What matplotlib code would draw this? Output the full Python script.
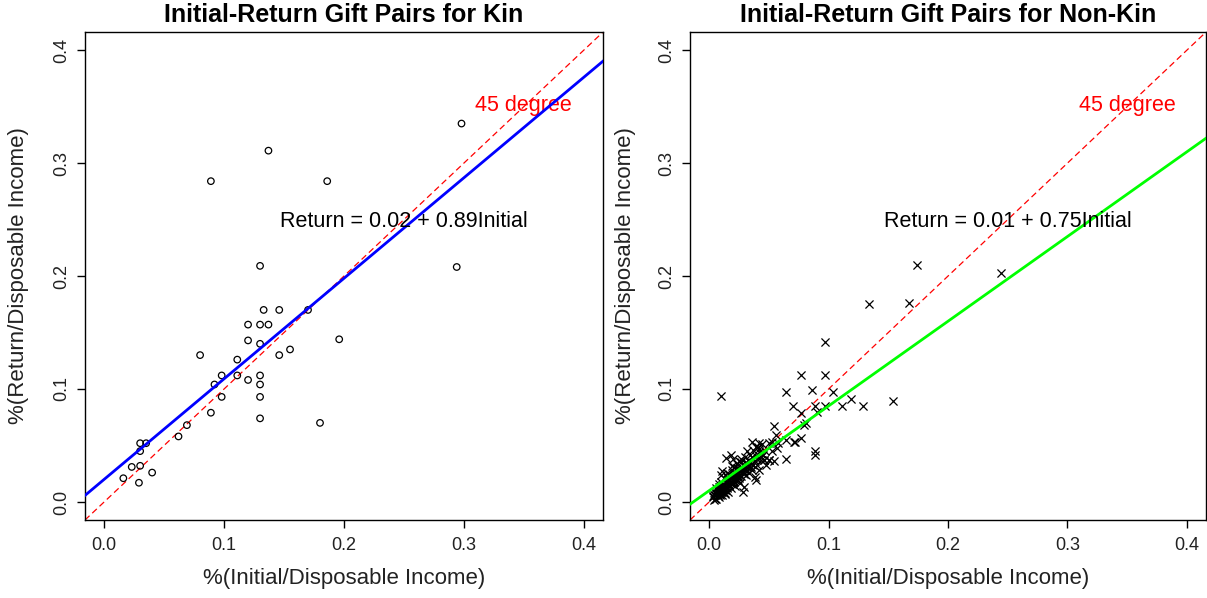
import matplotlib
matplotlib.use("Agg")
import matplotlib.pyplot as plt

plt.rcParams['font.family'] = ['Liberation Sans', 'DejaVu Sans']

# kin gift pairs (share of disposable income)
kin_initial = [0.298, 0.137, 0.089, 0.186, 0.130, 0.294, 0.133, 0.146, 0.170,
               0.120, 0.130, 0.137, 0.120, 0.130, 0.196, 0.080, 0.146, 0.155,
               0.111, 0.098, 0.111, 0.092, 0.120, 0.130, 0.130, 0.098, 0.130,
               0.089, 0.130, 0.180, 0.069, 0.062, 0.030, 0.035, 0.030, 0.023,
               0.030, 0.040, 0.016, 0.029]
kin_return = [0.335, 0.311, 0.284, 0.284, 0.209, 0.208, 0.170, 0.170, 0.170,
              0.157, 0.157, 0.157, 0.143, 0.140, 0.144, 0.130, 0.130, 0.135,
              0.126, 0.112, 0.112, 0.104, 0.108, 0.112, 0.104, 0.093, 0.093,
              0.079, 0.074, 0.070, 0.068, 0.058, 0.052, 0.052, 0.045, 0.031,
              0.032, 0.026, 0.021, 0.017]

# non-kin gift pairs
nonkin_initial = [0.174, 0.244, 0.134, 0.167, 0.097, 0.077, 0.097, 0.010, 0.064,
                  0.086, 0.104, 0.070, 0.089, 0.097, 0.111, 0.119, 0.129, 0.154,
                  0.090, 0.077, 0.079, 0.077, 0.072, 0.064, 0.064, 0.089, 0.089,
                  0.054, 0.057, 0.054, 0.028, 0.053, 0.056, 0.058, 0.071, 0.050,
                  0.046, 0.042, 0.036, 0.039, 0.081,
                  0.003, 0.004, 0.005, 0.005, 0.006, 0.006, 0.007, 0.007, 0.008,
                  0.008, 0.008, 0.009, 0.009, 0.010, 0.010, 0.010, 0.011, 0.011,
                  0.012, 0.012, 0.013, 0.013, 0.014, 0.014, 0.014, 0.015, 0.015,
                  0.016, 0.016, 0.017, 0.017, 0.018, 0.018, 0.018, 0.019, 0.019,
                  0.020, 0.020, 0.020, 0.021, 0.021, 0.022, 0.022, 0.023, 0.023,
                  0.024, 0.024, 0.025, 0.025, 0.026, 0.026, 0.027, 0.027, 0.028,
                  0.029, 0.029, 0.030, 0.030, 0.031, 0.031, 0.032, 0.033, 0.033,
                  0.034, 0.034, 0.035, 0.036, 0.036, 0.037, 0.038, 0.038, 0.039,
                  0.039, 0.040, 0.041, 0.042, 0.042, 0.043, 0.044, 0.045, 0.046,
                  0.047, 0.048, 0.050, 0.050, 0.053, 0.032, 0.042, 0.006, 0.009,
                  0.012, 0.015, 0.019, 0.022, 0.025, 0.004, 0.007, 0.011, 0.017,
                  0.021, 0.026, 0.030, 0.034,
                  0.003, 0.005, 0.006, 0.007, 0.008, 0.009, 0.010, 0.011, 0.012,
                  0.013, 0.014, 0.015, 0.016, 0.017, 0.018, 0.019, 0.020, 0.021,
                  0.022, 0.023, 0.024, 0.025, 0.026, 0.027, 0.028, 0.029, 0.031,
                  0.032, 0.035, 0.037, 0.040, 0.043, 0.015, 0.019, 0.023, 0.027,
                  0.011, 0.013, 0.008, 0.016]
nonkin_return = [0.210, 0.203, 0.175, 0.176, 0.142, 0.112, 0.112, 0.094, 0.097,
                 0.099, 0.097, 0.085, 0.085, 0.085, 0.085, 0.091, 0.085, 0.089,
                 0.080, 0.079, 0.068, 0.057, 0.053, 0.055, 0.038, 0.045, 0.042,
                 0.067, 0.048, 0.036, 0.009, 0.053, 0.059, 0.052, 0.053, 0.037,
                 0.037, 0.052, 0.053, 0.049, 0.070,
                 0.004, 0.002, 0.006, 0.009, 0.003, 0.012, 0.005, 0.008, 0.004,
                 0.011, 0.016, 0.007, 0.013, 0.009, 0.018, 0.024, 0.006, 0.012,
                 0.015, 0.010, 0.020, 0.008, 0.017, 0.039, 0.011, 0.013, 0.022,
                 0.019, 0.009, 0.025, 0.015, 0.042, 0.021, 0.012, 0.018, 0.028,
                 0.023, 0.016, 0.038, 0.020, 0.031, 0.026, 0.014, 0.022, 0.034,
                 0.025, 0.019, 0.029, 0.036, 0.024, 0.017, 0.030, 0.038, 0.027,
                 0.033, 0.013, 0.028, 0.040, 0.035, 0.024, 0.031, 0.037, 0.026,
                 0.042, 0.030, 0.034, 0.040, 0.028, 0.046, 0.036, 0.022, 0.019,
                 0.041, 0.033, 0.049, 0.028, 0.044, 0.037, 0.051, 0.042, 0.037,
                 0.045, 0.033, 0.037, 0.052, 0.045, 0.045, 0.047, 0.008, 0.010,
                 0.014, 0.018, 0.021, 0.025, 0.027, 0.006, 0.010, 0.015, 0.020,
                 0.024, 0.028, 0.032, 0.035,
                 0.005, 0.003, 0.007, 0.006, 0.009, 0.006, 0.011, 0.009, 0.013,
                 0.011, 0.014, 0.012, 0.016, 0.014, 0.017, 0.016, 0.019, 0.018,
                 0.021, 0.019, 0.023, 0.021, 0.027, 0.023, 0.029, 0.025, 0.029,
                 0.034, 0.031, 0.033, 0.038, 0.040, 0.026, 0.032, 0.030, 0.035,
                 0.027, 0.007, 0.013, 0.021]

# fitted coefficients (intercept, slope) as printed on the chart
kin_fit = (0.02, 0.89)
nonkin_fit = (0.01, 0.75)

ticks = [0.0, 0.1, 0.2, 0.3, 0.4]
lims = (-0.016, 0.416)

fig = plt.figure(figsize=(12.07, 5.98), dpi=100)
ax1 = fig.add_axes([0.0704, 0.1304, 0.4292, 0.816])
ax2 = fig.add_axes([0.5717, 0.1304, 0.4275, 0.816])


def setup(ax, title, ylab_x):
    ax.set_xlim(lims)
    ax.set_ylim(lims)
    ax.set_xticks(ticks)
    ax.set_yticks(ticks)
    ax.set_xticklabels([f"{t:.1f}" for t in ticks])
    ax.set_yticklabels([f"{t:.1f}" for t in ticks], rotation=90, va='center')
    ax.tick_params(axis='both', direction='out', length=5.5, width=1,
                   labelsize=13, colors='black', labelcolor='#222222')
    ax.tick_params(axis='x', pad=7)
    ax.tick_params(axis='y', pad=5)
    for s in ax.spines.values():
        s.set_linewidth(1)
        s.set_color('black')
    ax.set_xlabel("%(Initial/Disposable Income)", fontsize=16, color='#222222',
                  va='center')
    ax.set_ylabel("%(Return/Disposable Income)", fontsize=16, color='#222222',
                  va='center')
    ax.xaxis.set_label_coords(0.5, -0.119)
    ax.yaxis.set_label_coords(ylab_x, 0.5)
    ax.text(0.5, 1.034, title, transform=ax.transAxes, ha='center', va='center',
            fontsize=18, fontweight='bold')
    ax.axline((0, 0), slope=1, color='red', lw=0.9, ls=(0, (5, 3)))
    ax.text(0.35, 0.351, "45 degree", color='red', fontsize=15.5,
            ha='center', va='center')


setup(ax1, "Initial-Return Gift Pairs for Kin", -0.129)
ax1.scatter(kin_initial, kin_return, s=22, facecolors='none',
            edgecolors='black', linewidths=0.9, zorder=3)
ax1.axline((0, kin_fit[0]), slope=kin_fit[1], color='#0000FF', lw=2.0, zorder=4)
ax1.text(0.25, 0.248, f"Return = {kin_fit[0]:.2f} + {kin_fit[1]:.2f}Initial",
         fontsize=15.5, ha='center', va='center', zorder=5)

setup(ax2, "Initial-Return Gift Pairs for Non-Kin", -0.126)
ax2.scatter(nonkin_initial, nonkin_return, s=34, marker='x', color='black',
            linewidths=0.9, zorder=3)
ax2.axline((0, nonkin_fit[0]), slope=nonkin_fit[1], color='#00FF00', lw=2.0, zorder=4)
ax2.text(0.25, 0.248, f"Return = {nonkin_fit[0]:.2f} + {nonkin_fit[1]:.2f}Initial",
         fontsize=15.5, ha='center', va='center', zorder=5)

fig.savefig("out.png", dpi=100)
